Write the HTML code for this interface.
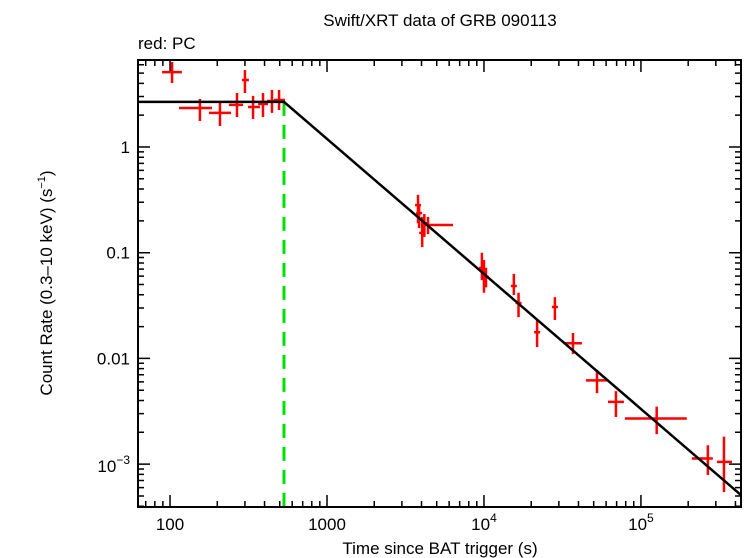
<!DOCTYPE html>
<html><head><meta charset="utf-8"><style>
body{margin:0;background:#fff;}
svg{display:block;font-family:"Liberation Sans",Arial,sans-serif;}
</style></head><body>
<svg id="chart" width="746" height="558" xmlns="http://www.w3.org/2000/svg">
<text x="440" y="26" font-size="17" text-anchor="middle">Swift/XRT data of GRB 090113</text>
<text x="138" y="49" font-size="17">red: PC</text>
<text x="440" y="554" font-size="17" text-anchor="middle">Time since BAT trigger (s)</text>
<text transform="translate(52,283) rotate(-90)" font-size="17" text-anchor="middle">Count Rate (0.3–10 keV) (s<tspan font-size="11" dy="-7">−1</tspan><tspan dy="7">)</tspan></text>
<g id="ticks"></g><g id="marks"></g>
<rect x="138" y="60" width="603" height="447" fill="none" stroke="#000" stroke-width="2"/>
</svg>
<script>
const ptX=[103,155,208,267,300,338,391,446,495,3800,3860,4040,4170,4400,9700,10000,10300,15500,16600,21800,28300,36900,52500,69300,126000,267000,338000];
const ptXlo=[89,114,177,237,287,314,364,415,460,3780,3840,4020,4150,4090,9650,9950,10250,15400,16500,21600,28100,32800,44600,61700,79000,211000,305000];
const ptXhi=[119,185,245,292,318,374,421,480,540,3820,3880,4060,4190,6350,9750,10050,10350,15600,16700,22000,28500,42100,60700,77900,196000,287000,380000];
const ptY=[5.1,2.34,2.10,2.50,4.30,2.39,2.55,2.72,2.78,0.282,0.237,0.154,0.19,0.183,0.0716,0.0655,0.0589,0.0484,0.0334,0.0177,0.0306,0.0139,0.0062,0.00388,0.0027,0.00113,0.00105];
const ptYlo=[4.03,1.76,1.58,1.92,3.24,1.84,1.92,2.10,2.24,0.19,0.171,0.113,0.141,0.15,0.055,0.0418,0.047,0.0398,0.0246,0.0128,0.0231,0.011,0.0047,0.00279,0.00192,0.00079,0.000543];
const ptYhi=[6.36,2.84,2.61,3.24,5.35,3.04,3.24,3.46,3.46,0.352,0.282,0.218,0.232,0.218,0.1,0.085,0.072,0.063,0.0418,0.0231,0.038,0.0174,0.0078,0.0049,0.0035,0.00151,0.00182];
const modelX=[62.5,532,434000];
const modelY=[2.67,2.67,0.00051];
const breakTime=[532];
const xTickVals=[100,1000,10000,100000];
const xTickLabels=["100","1000","10^4","10^5"];
const yTickVals=[1,0.1,0.01,0.001];
const yTickLabels=["1","0.1","0.01","10^−3"];

const L=138,R=741,T=60,B=507;
const xmin=Math.log10(62.5),xmax=Math.log10(434000);
const ymax=Math.log10(6.65),ymin=Math.log10(0.000393);
const sx=v=>L+(Math.log10(v)-xmin)/(xmax-xmin)*(R-L);
const sy=v=>T+(ymax-Math.log10(v))/(ymax-ymin)*(B-T);
const NS="http://www.w3.org/2000/svg";
function mk(tag,a,parent){const e=document.createElementNS(NS,tag);for(const k in a)e.setAttribute(k,a[k]);parent.appendChild(e);return e;}
const tg=document.getElementById('ticks'),mg=document.getElementById('marks');
function lab(txt,x,y,anchor,name){
  const t=mk('text',{x:x,y:y,'font-size':17,'text-anchor':anchor},tg);
  
  
  const m=txt.match(/^10\^(.*)$/);
  if(m){t.textContent='10';const s=mk('tspan',{'font-size':12,dy:-8},t);s.textContent=m[1];}
  else t.textContent=txt;
}
for(let d=1;d<=5;d++)for(let k=1;k<10;k++){const v=k*Math.pow(10,d);if(v<62.5||v>434000)continue;const x=sx(v);const len=k===1?12:6;
  const a=mk('path',{d:`M${x},${B}v${-len}M${x},${T}v${len}`,stroke:'#000','stroke-width':1.5},tg);
  
  }
xTickVals.forEach((v,i)=>lab(xTickLabels[i],sx(v),B+23,'middle','x-tick-label'));
for(let d=-4;d<=0;d++)for(let k=1;k<10;k++){const v=k*Math.pow(10,d);if(v<0.000393||v>6.65)continue;const y=sy(v);const len=k===1?12:6;
  const a=mk('path',{d:`M${L},${y}h${len}M${R},${y}h${-len}`,stroke:'#000','stroke-width':1.5},tg);
  
  }
yTickVals.forEach((v,i)=>lab(yTickLabels[i],L-8,sy(v)+(i===3?8:6),'end','y-tick-label'));
const bl=mk('line',{x1:sx(breakTime[0]),x2:sx(breakTime[0]),y1:sy(modelY[1]),y2:B,stroke:'#00e000','stroke-width':3,'stroke-dasharray':'14,9'},mg);


ptX.forEach((v,i)=>{
  const xc=sx(v);
  const x1=Math.min(sx(ptXlo[i]),xc-3),x2=Math.max(sx(ptXhi[i]),xc+3);
  const g=mk('path',{d:`M${x1},${sy(ptY[i])}H${x2}M${xc},${sy(ptYlo[i])}V${sy(ptYhi[i])}`,stroke:'#ff0000','stroke-width':2.5,fill:'none'},mg);
  
  
});
const md=mk('polyline',{points:modelX.map((v,i)=>sx(v)+','+sy(modelY[i])).join(' '),stroke:'#000','stroke-width':2.5,fill:'none'},mg);


</script>
</body></html>
